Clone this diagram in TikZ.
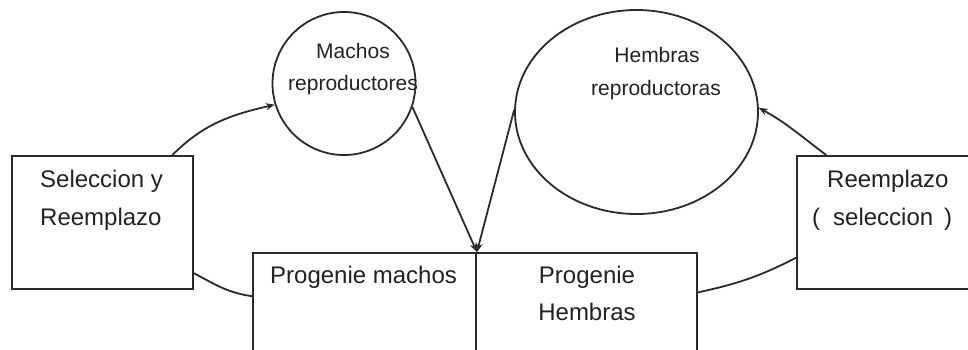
\documentclass[tikz,border=0pt]{standalone}
\usepackage{fontspec}
\setmainfont{Liberation Sans}
\usetikzlibrary{shapes.geometric,arrows.meta}
\definecolor{ink}{HTML}{2a2a2a}
\definecolor{txt}{HTML}{222222}
\tikzset{
  shapebox/.style={draw=ink, line width=1.8pt, inner sep=0pt, fill=white},
  bigtxt/.style={inner sep=0pt, text=txt, font=\fontsize{24}{30}\selectfont},
  smalltxt/.style={inner sep=0pt, text=txt, font=\fontsize{21}{26}\selectfont},
  conn/.style={draw=ink, line width=1.8pt},
  arr/.style={conn, -{Stealth[length=9pt,width=7pt]}}
}
\begin{document}
\begin{tikzpicture}[x=1pt,y=-1pt]
\useasboundingbox (0,0) rectangle (968,349);
% shapes
\node[shapebox, minimum width=181pt, minimum height=133pt] (sel) at (102.5,222.5) {};
\node[shapebox, minimum width=203pt, minimum height=133pt] (rep) at (898.5,222.5) {};
\node[shapebox, minimum width=223pt, minimum height=122pt] (pm) at (364.5,314) {};
\node[shapebox, minimum width=221pt, minimum height=122pt] (ph) at (586.5,314) {};
\node[shapebox, circle, minimum size=143pt] (mach) at (344,83.5) {};
\node[shapebox, ellipse, minimum width=243pt, minimum height=204pt] (hem) at (636.5,112) {};
% texts
\node[bigtxt, anchor=base west] (sel1) at (40,187) {Seleccion y};
\node[bigtxt, anchor=base west] (sel2) at (40,225) {Reemplazo};
\node[bigtxt, anchor=base west] (rep1) at (827,187) {Reemplazo};
\node[bigtxt, anchor=base west] (rep2) at (812,225) {(\hspace{13pt}seleccion\hspace{11pt})};
\node[bigtxt, anchor=base west] (pm1) at (270,283) {Progenie machos};
\node[bigtxt, anchor=base] (ph1) at (587,283) {Progenie};
\node[bigtxt, anchor=base] (ph2) at (587,320) {Hembras};
\node[smalltxt, anchor=base] (mach1) at (353,58) {Machos};
\node[smalltxt, anchor=base] (mach2) at (353,90) {reproductores};
\node[smalltxt, anchor=base] (hem1) at (657,62) {Hembras};
\node[smalltxt, anchor=base] (hem2) at (656,95) {reproductoras};
% connectors
\draw[arr] (sel.44) to[out=45, in=193] (mach.197);
\draw[conn] (sel.331) to[out=-28, in=172] (pm.171);
\draw[arr] (rep.137) to[out=143, in=-29] (hem.2);
\draw[conn] (ph.11) to[out=12, in=207] (rep.199);
\draw[arr] (mach.-19) -- (pm.north east);
\draw[arr] (hem.179) -- (pm.north east);
\end{tikzpicture}
\end{document}
